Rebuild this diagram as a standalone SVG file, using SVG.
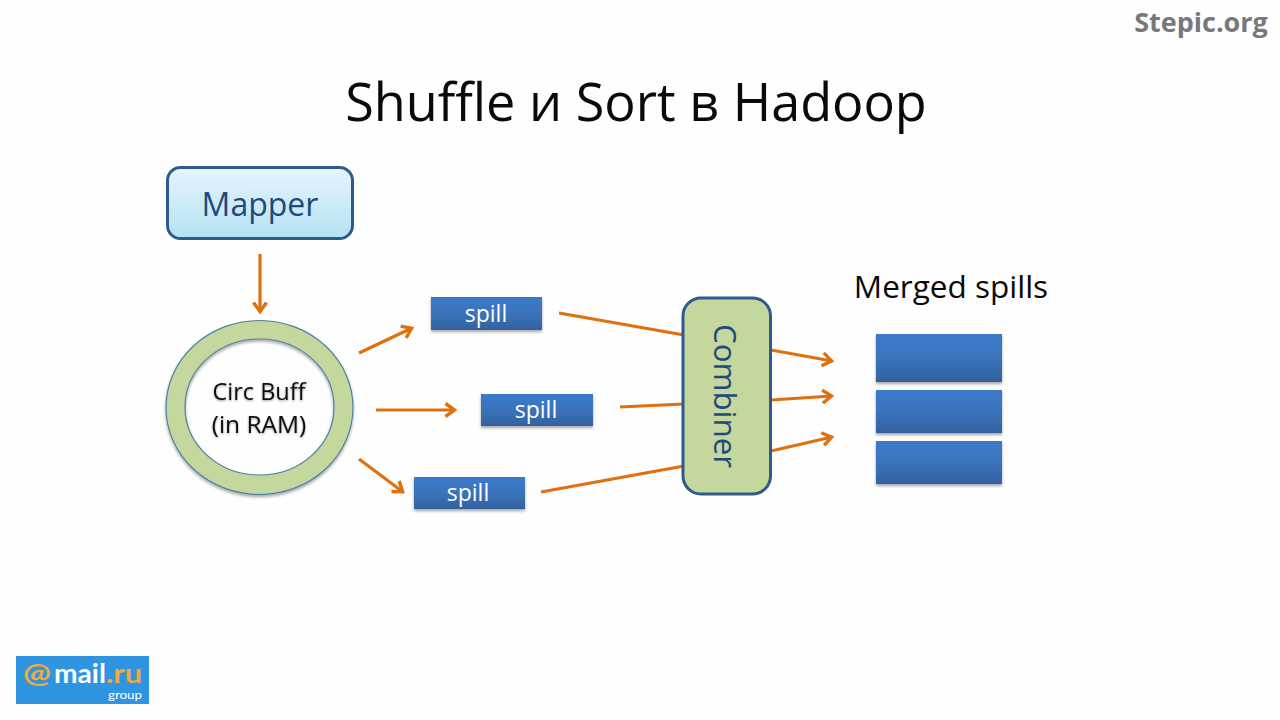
<svg xmlns="http://www.w3.org/2000/svg" width="1280" height="720" viewBox="0 0 1280 720">
<defs>
<linearGradient id="sky" x1="0" y1="0" x2="0" y2="1"><stop offset="0" stop-color="#e6f4fa"/><stop offset="1" stop-color="#b5e2f5"/></linearGradient>
<linearGradient id="blue" x1="0" y1="0" x2="0" y2="1"><stop offset="0" stop-color="#3b7bcb"/><stop offset="0.5" stop-color="#3a73ba"/><stop offset="1" stop-color="#33619f"/></linearGradient>
<filter id="sh" x="-10%" y="-20%" width="120%" height="150%"><feDropShadow dx="0" dy="2" stdDeviation="1.5" flood-color="#000" flood-opacity="0.35"/></filter>
<filter id="ts" x="-10%" y="-20%" width="120%" height="150%"><feDropShadow dx="0" dy="1" stdDeviation="1.2" flood-color="#000" flood-opacity="0.4"/></filter>
<marker id="arr" markerUnits="userSpaceOnUse" markerWidth="20" markerHeight="20" refX="13" refY="8" orient="auto"><path d="M3.500 1.500L12.500 8L3.500 14.500" fill="none" stroke="#e0700f" stroke-width="3.400"/></marker>
</defs>
<style>
text{font-family:"Open Sans","Noto Sans","Liberation Sans",sans-serif;text-anchor:middle}
.c{fill:none;stroke:#e0700f;stroke-width:3.200}
.a{marker-end:url(#arr)}
.s{fill:url(#blue);filter:url(#sh)}
.w{fill:#fff;font-size:23px}
.l{font-family:"Lato","Open Sans",sans-serif;text-anchor:start}
</style>
<rect width="1280" height="720" fill="#fefefe"/>
<text id="watermark" x="1201" y="32" font-size="27" font-weight="700" fill="#77787a">Stepic.org</text>
<text id="title" x="636" y="121" font-size="52.200" fill="#0a0a0a">Shuffle и Sort в Hadoop</text>
<g id="connectors">
<path class="c a" d="M260 254V312"/>
<path class="c a" d="M359 353L412 328"/>
<path class="c a" d="M376 410H455"/>
<path class="c a" d="M359 459L403 492"/>
<path class="c" d="M559 313L684 335"/>
<path class="c" d="M620 407L684 404"/>
<path class="c" d="M541 492L684 466"/>
<path class="c a" d="M771 350L832 361"/>
<path class="c a" d="M771 400L832 396"/>
<path class="c a" d="M771 451L832 437"/>
</g>
<g id="mapper"><rect x="167.500" y="167.500" width="185" height="71" rx="13" fill="url(#sky)" stroke="#2f5a8c" stroke-width="3"/><text x="260" y="216" font-size="32" fill="#1f4a7d">Mapper</text></g>
<g id="circ-buff"><path fill-rule="evenodd" d="M166 407.500a93.500 87 0 1 0 187 0a93.500 87 0 1 0-187 0ZM185 407a74.500 68 0 1 0 149 0a74.500 68 0 1 0-149 0Z" fill="#c4d79c" stroke="#4f81a6" stroke-width="1.200" filter="url(#sh)"/><text x="259" y="400" font-size="23.500" fill="#111" filter="url(#ts)">Circ Buff</text><text x="259" y="433" font-size="24.500" fill="#111" filter="url(#ts)">(in RAM)</text></g>
<g id="spill-1"><rect class="s" x="431" y="297" width="111" height="33"/><text class="w" x="486" y="322">spill</text></g>
<g id="spill-2"><rect class="s" x="481" y="394" width="112" height="32"/><text class="w" x="536" y="418">spill</text></g>
<g id="spill-3"><rect class="s" x="414" y="477" width="111" height="32"/><text class="w" x="468" y="501">spill</text></g>
<g id="combiner"><rect x="683" y="298" width="87.500" height="196" rx="18" fill="#c4d79c" stroke="#2f5a8c" stroke-width="3"/><text transform="translate(714 396) rotate(90)" font-size="31.300" fill="#1f4a7d">Combiner</text></g>
<g id="merged-spills"><text x="951" y="298" font-size="31.500" fill="#0a0a0a">Merged spills</text><rect class="s" x="876" y="334" width="126" height="48"/><rect class="s" x="876" y="390" width="126" height="43"/><rect class="s" x="876" y="441" width="126" height="43"/></g>
<g id="logo"><rect x="16" y="656" width="133" height="48" fill="#2f95e0"/>
<text class="l" x="23" y="683" font-size="26" font-weight="700" textLength="28" lengthAdjust="spacingAndGlyphs" fill="#f2a93b">@</text><text class="l" x="54" y="683" font-size="26" font-weight="700" textLength="52" lengthAdjust="spacingAndGlyphs" fill="#fff">mail</text><text class="l" x="106" y="683" font-size="26" font-weight="700" textLength="36" lengthAdjust="spacingAndGlyphs" fill="#f2a93b">.ru</text><text class="l" x="108" y="699" font-size="11" textLength="34" lengthAdjust="spacingAndGlyphs" fill="#fff">group</text></g>
</svg>
